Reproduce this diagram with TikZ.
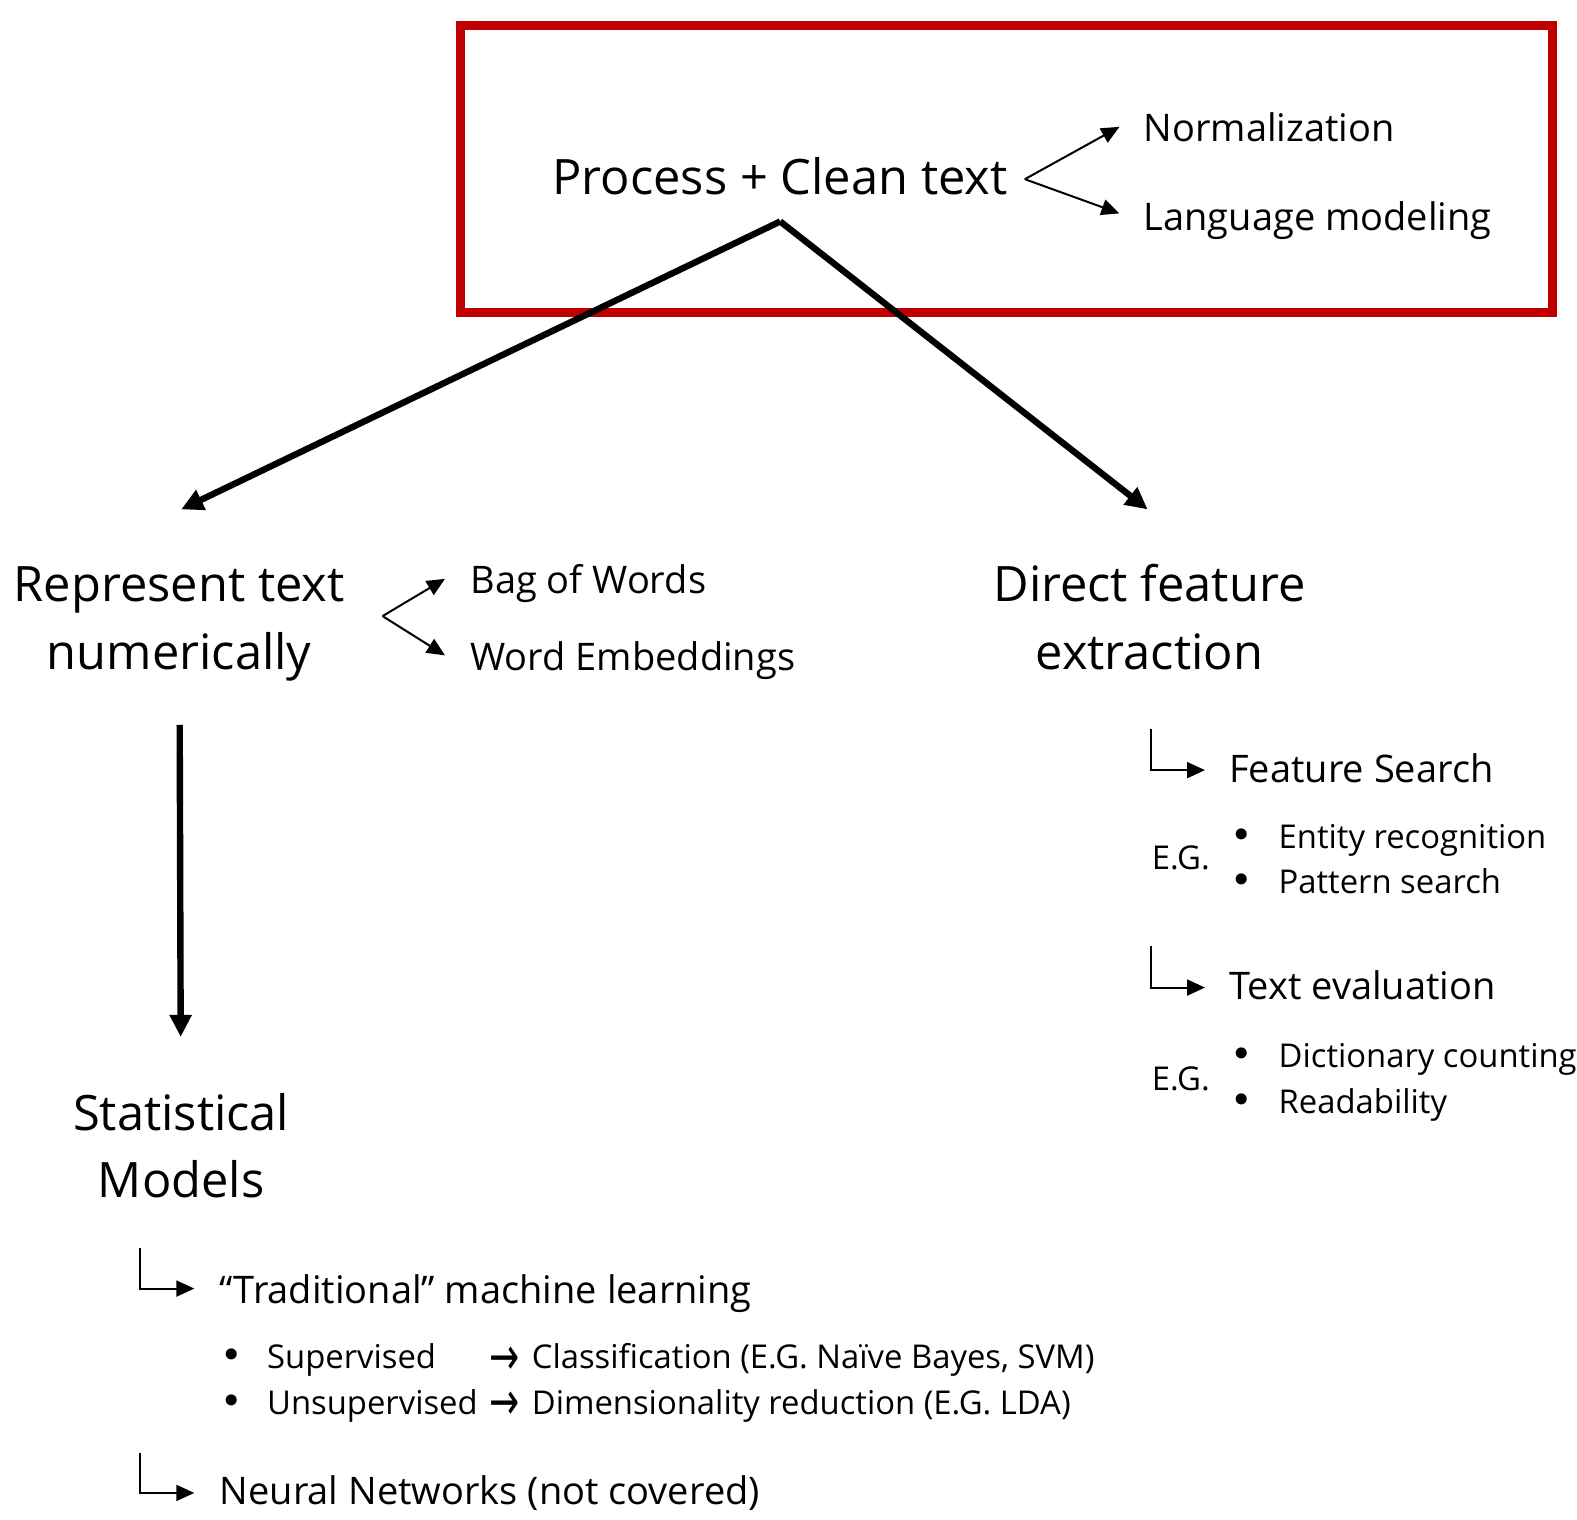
\documentclass[tikz,border=0pt]{standalone}
\usepackage{fontspec}
\usepackage{graphicx}
\setmainfont{Open Sans}
\newfontfamily\arrowfont{DejaVu Sans}
\usetikzlibrary{arrows.meta}
\definecolor{boxred}{RGB}{192,0,0}
\tikzset{
  big/.style={font=\fontsize{24.4}{33}\selectfont, inner sep=0pt, align=center},
  mid/.style={font=\fontsize{19}{25}\selectfont, inner sep=0pt, anchor=base west},
  small/.style={font=\fontsize{16.4}{22}\selectfont, inner sep=0pt, anchor=base west},
  bul/.style={font=\fontsize{19}{22}\arrowfont, inner sep=0pt, anchor=base west},
  arr/.style={font=\fontsize{18}{22}\arrowfont, inner sep=0pt, anchor=base west},
  thick arrow/.style={line width=3.2pt, -{Triangle[length=11pt,width=10.5pt]}},
  thin arrow/.style={line width=1pt, -{Triangle[length=9pt,width=8pt]}},
}
\newcommand{\tallarrow}{\raisebox{-2.6pt}{\scalebox{1}[1.45]{→}}}
\begin{document}
\begin{tikzpicture}[x=0.5pt,y=-0.5pt]
\useasboundingbox (0,0) rectangle (1577,1519);
% red box
\draw[boxred, line width=4.3pt] (460.5,25.3) rectangle (1552.5,312.5);
\begin{scope}[scale=1.0065]
% top
\node[big, anchor=base] (proc) at (775,193) {Process + Clean text};
\node[mid] (norm) at (1136,141) {Normalization};
\node[mid] (lang) at (1136,229) {Language modeling};
\coordinate (fork1) at (1018,178);
\coordinate (norma) at (1112,126);
\coordinate (langa) at (1112,212);
\draw[thin arrow] (fork1) -- (norma);
\draw[thin arrow] (fork1) -- (langa);
% main branches
\coordinate (apex) at (775,220);
\coordinate (lefttip) at (180,506);
\coordinate (righttip) at (1140,506);
\draw[thick arrow] (apex) -- (lefttip);
\draw[thick arrow] (apex) -- (righttip);
% represent text
\node[big, anchor=base] (rep1) at (178,598) {Represent text};
\node[big, anchor=base] (rep2) at (178,665) {numerically};
\node[mid] (bow) at (467,590) {Bag of Words};
\node[mid] (emb) at (467,666) {Word Embeddings};
\coordinate (fork2) at (380,612);
\coordinate (bowa) at (442,575);
\coordinate (emba) at (442,651);
\draw[thin arrow] (fork2) -- (bowa);
\draw[thin arrow] (fork2) -- (emba);
% vertical arrow
\coordinate (vtop) at (178.5,720);
\coordinate (vbot) at (179.5,1030);
\draw[thick arrow] (vtop) -- (vbot);
% statistical models
\node[big, anchor=base] (stat1) at (180,1123) {Statistical};
\node[big, anchor=base] (stat2) at (180,1190) {Models};
\node[mid] (trad) at (218,1295) {“Traditional” machine learning};
\coordinate (e3a) at (139,1240);
\coordinate (e3b) at (139,1280);
\coordinate (e3c) at (193,1280);
\draw[thin arrow] (e3a) -- (e3b) -- (e3c);
\node[bul] (b1) at (219,1360) {•};
\node[small] (sup) at (265,1360) {Supervised};
\node[arr] (a1) at (486,1360) {\tallarrow};
\node[small] (cls) at (528,1360) {Classification (E.G. Naïve Bayes, SVM)};
\node[bul] (b2) at (219,1405) {•};
\node[small] (unsup) at (265,1405) {Unsupervised};
\node[arr] (a2) at (486,1405) {\tallarrow};
\node[small] (dim) at (528,1405) {Dimensionality reduction (E.G. LDA)};
\node[mid] (nn) at (218,1495) {Neural Networks (not covered)};
\coordinate (e4a) at (139,1443);
\coordinate (e4b) at (139,1483);
\coordinate (e4c) at (193,1483);
\draw[thin arrow] (e4a) -- (e4b) -- (e4c);
% direct feature extraction
\node[big, anchor=base] (dir1) at (1142,598) {Direct feature};
\node[big, anchor=base] (dir2) at (1142,665) {extraction};
\node[mid] (fs) at (1221,777) {Feature Search};
\coordinate (e1a) at (1143,724);
\coordinate (e1b) at (1143,765);
\coordinate (e1c) at (1197,765);
\draw[thin arrow] (e1a) -- (e1b) -- (e1c);
\node[small] (eg1) at (1144,864) {E.G.};
\node[bul] (b3) at (1222,843) {•};
\node[small] (ent) at (1270,843) {Entity recognition};
\node[bul] (b4) at (1222,888) {•};
\node[small] (pat) at (1270,888) {Pattern search};
\node[mid] (te) at (1221,993) {Text evaluation};
\coordinate (e2a) at (1143,940);
\coordinate (e2b) at (1143,981);
\coordinate (e2c) at (1197,981);
\draw[thin arrow] (e2a) -- (e2b) -- (e2c);
\node[small] (eg2) at (1144,1083) {E.G.};
\node[bul] (b5) at (1222,1061) {•};
\node[small] (dict) at (1270,1061) {Dictionary counting};
\node[bul] (b6) at (1222,1106) {•};
\node[small] (read) at (1270,1106) {Readability};
\end{scope}
\end{tikzpicture}
\end{document}
